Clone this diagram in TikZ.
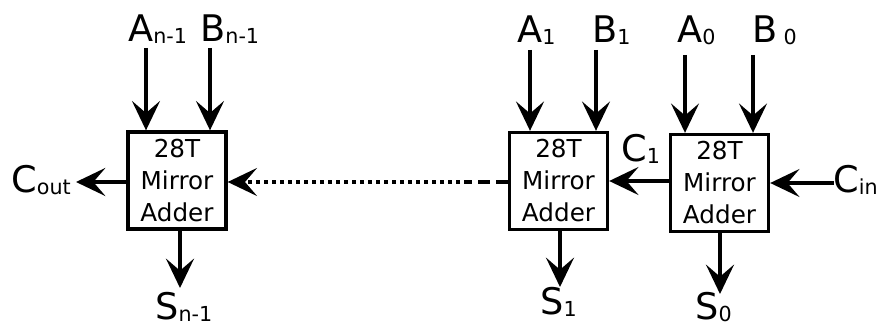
\documentclass[tikz,border=0pt]{standalone}
\usepackage{fontspec}
\setmainfont{DejaVu Sans}
\usetikzlibrary{arrows.meta}
\newcommand\subtxt[1]{{\fontsize{15.5}{15.5}\selectfont\raisebox{-1.2pt}{#1}}}
\tikzset{
  adder/.style={draw, line width=2.5pt, minimum width=73.5pt, minimum height=72.75pt, inner sep=0pt,
    align=center, font=\fontsize{18.5}{24}\selectfont},
  lbl/.style={anchor=base west, inner sep=0pt, font=\fontsize{27.5}{30}\selectfont},
  arr/.style={line width=2.6pt, -{Stealth[length=22pt, width=21pt, inset=9pt]}},
  dotline/.style={line width=2.6pt, dash pattern=on 3pt off 3pt},
  dashline/.style={line width=2.6pt, dash pattern=on 9pt off 4.5pt}
}
\begin{document}
\begin{tikzpicture}[x=0.75pt, y=-0.75pt]
\useasboundingbox (0,0) rectangle (888,327);
% adders
\node[adder] (b1) at (177,180.5) {28T\\Mirror\\Adder};
\node[adder] (b2) at (558.5,181) {28T\\Mirror\\Adder};
\node[adder] (b3) at (719.5,183) {28T\\Mirror\\Adder};
% labels
\node[lbl] (lan) at (128,42) {A\subtxt{n-1}};
\node[lbl] (lbn) at (200,42) {B\subtxt{n-1}};
\node[lbl] (la1) at (517,43) {A\subtxt{1}};
\node[lbl] (lb1) at (592,43) {B\subtxt{1}};
\node[lbl] (la0) at (677,43) {A\subtxt{0}};
\node[lbl] (lb0) at (752,43) {B\,\subtxt{0}};
\node[lbl] (lcout) at (11,193) {C\subtxt{out}};
\node[lbl] (lcin) at (833,193) {C\subtxt{in}};
\node[lbl] (lc1) at (621,162) {C\subtxt{1}};
\node[lbl] (lsn) at (155,320) {S\subtxt{n-1}};
\node[lbl] (ls1) at (540,315) {S\subtxt{1}};
\node[lbl] (ls0) at (695,320) {S\subtxt{0}};
% coordinates
\coordinate (an) at (146,48);
\coordinate (bn) at (210,48);
\coordinate (a1) at (530,50);
\coordinate (b1c) at (596,50);
\coordinate (a0) at (685,55);
\coordinate (b0) at (753,55);
\coordinate (sn) at (180,288);
\coordinate (s1) at (560,287);
\coordinate (s0) at (720,294);
\coordinate (cout) at (76,182);
\coordinate (cin) at (834,183);
\coordinate (dsh) at (468,182);
% inputs
\draw[arr] (an) -- (an |- b1.north);
\draw[arr] (bn) -- (bn |- b1.north);
\draw[arr] (a1) -- (a1 |- b2.north);
\draw[arr] (b1c) -- (b1c |- b2.north);
\draw[arr] (a0) -- (a0 |- b3.north);
\draw[arr] (b0) -- (b0 |- b3.north);
% outputs
\draw[arr] (sn |- b1.south) -- (sn);
\draw[arr] (s1 |- b2.south) -- (s1);
\draw[arr] (s0 |- b3.south) -- (s0);
% carries
\draw[arr] (b1.west |- cout) -- (cout);
\draw[arr] (cin) -- (b3.east |- cin);
\draw[arr] (b3.west |- b2.east) -- (b2.east);
\draw[dashline] (b2.west |- dsh) -- (dsh);
\draw[dotline, arrows={-Stealth[length=22pt, width=21pt, inset=9pt]}] (dsh) -- (b1.east |- dsh);
\end{tikzpicture}
\end{document}
